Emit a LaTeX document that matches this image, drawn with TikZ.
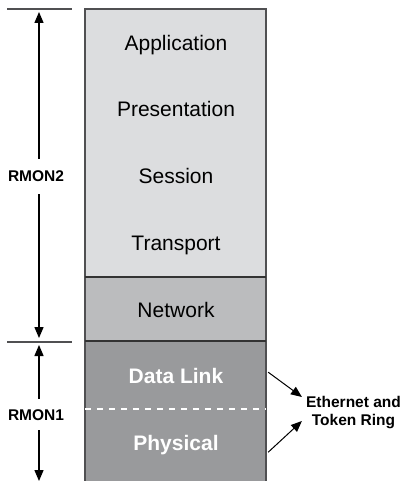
\documentclass[tikz,border=0pt]{standalone}
\usepackage{fontspec}
\setmainfont{Liberation Sans}
\usepackage{xcolor}
\usetikzlibrary{arrows.meta,positioning}
\definecolor{rmtop}{RGB}{220,221,223}
\definecolor{rmmid}{RGB}{187,188,190}
\definecolor{rmlow}{RGB}{153,154,156}
\definecolor{rmedge}{RGB}{80,80,82}
\tikzset{
rmlayer/.style={rectangle,inner sep=0pt,minimum width=181bp,anchor=north},
rmname/.style={font=\fontsize{21bp}{25bp}\selectfont,anchor=base,inner sep=0pt},
rmbold/.style={rmname,font=\fontsize{21bp}{25bp}\selectfont\bfseries,text=white},
rmside/.style={font=\fontsize{15.5bp}{18bp}\selectfont\bfseries,inner xsep=0pt},
rmarr/.style={-{Triangle[length=11bp,width=9bp]},line width=1.3bp},
rmtick/.style={line width=1.5bp,draw=rmedge},
rmsep/.style={line width=2bp,draw=black!80}
}
\begin{document}
\begin{tikzpicture}[x=1bp,y=-1bp]
\useasboundingbox (0,0) rectangle (403,481);
% layer stack
\node[rmlayer,fill=rmtop,minimum height=268bp] (upper) at (175.5,9) {};
\node[rmlayer,fill=rmmid,minimum height=64bp] (network) at (175.5,277) {};
\node[rmlayer,fill=rmlow,minimum height=68bp] (link) at (175.5,341) {};
\node[rmlayer,fill=rmlow,minimum height=72bp] (phys) at (175.5,409) {};
\draw[rmedge,line width=2bp] (phys.south west) |- (upper.north east) -- (phys.south east);
\draw[rmsep] (network.north west) -- (network.north east);
\draw[rmsep] (link.north west) -- (link.north east);
\draw[white,dash pattern=on 6bp off 6bp,line width=1.3bp] (phys.north west) -- (phys.north east);
\node[rmname] (app) at (176,51) {Application};
\node[rmname] (pres) at (176,117) {Presentation};
\node[rmname] (sess) at (176,184) {Session};
\node[rmname] (trans) at (176,250.5) {Transport};
\node[rmname] (net) at (176,317) {Network};
\node[rmbold] (dl) at (176,383) {Data Link};
\node[rmbold] (ph) at (176,450) {Physical};
% RMON ranges
\coordinate (topl) at (7,9);
\coordinate (topr) at (72,9);
\coordinate (midl) at (7,342);
\coordinate (midr) at (72,342);
\draw[rmtick] (topl) -- (topr);
\draw[rmtick] (midl) -- (midr);
\node[rmside,anchor=base,inner ysep=12bp] (rmtwo) at (36,182) {RMON2};
\node[rmside,anchor=base,inner ysep=10bp] (rmone) at (36,420) {RMON1};
\coordinate (tiptop) at (39,12);
\coordinate (tipmidup) at (39,338);
\coordinate (tipmiddown) at (39,345);
\coordinate (tipbot) at (39,481);
\draw[rmarr] (rmtwo.north -| tiptop) -- (tiptop);
\draw[rmarr] (rmtwo.south -| tiptop) -- (tipmidup);
\draw[rmarr] (rmone.north -| tiptop) -- (tipmiddown);
\draw[rmarr] (rmone.south -| tiptop) -- (tipbot);
% link and physical media
\node[rmside,align=center] (ether) at (353.5,413) {Ethernet and\\Token Ring};
\draw[rmarr,line width=1bp] ([xshift=2bp,yshift=3bp]link.east) -- ([xshift=-4bp,yshift=16bp]ether.west);
\draw[rmarr,line width=1bp] ([xshift=2bp,yshift=-7bp]phys.east) -- ([xshift=-4bp,yshift=-8bp]ether.west);
\end{tikzpicture}
\end{document}
